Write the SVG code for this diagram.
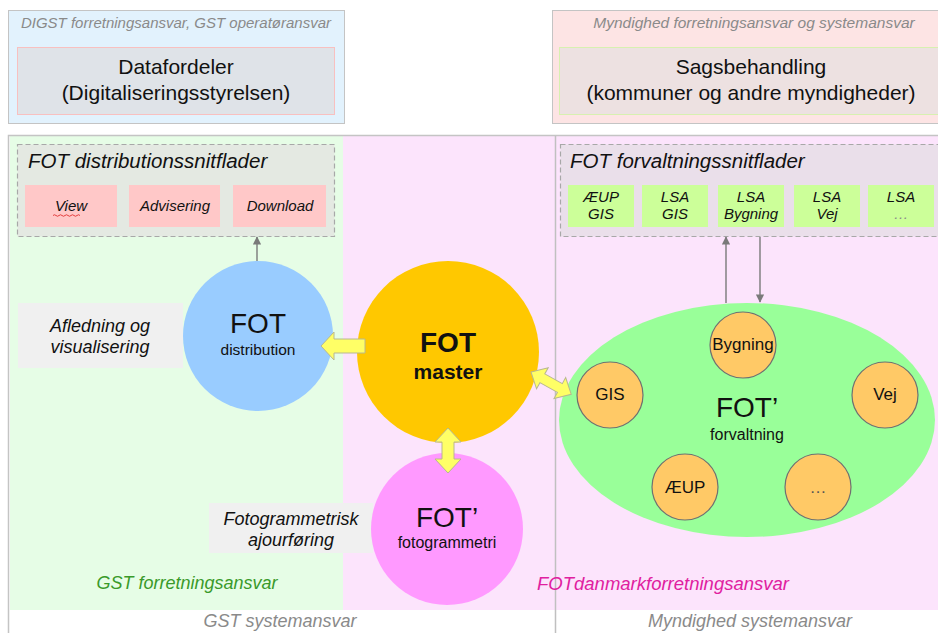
<svg xmlns="http://www.w3.org/2000/svg" width="938" height="633" viewBox="0 0 938 633">
<style>
text{font-family:"Liberation Sans",Arial,sans-serif;fill:#111}
.it{font-style:italic}
.gray{fill:#8a8a8a}
.sub{fill:#ffc8c8}
.sub2{fill:#ccff99}
.dash{stroke:#a8a8a8;stroke-width:1.2;stroke-dasharray:5 3}
.small{fill:#ffc966;stroke:#707070;stroke-width:1.2}
.yarrow{fill:#ffff66;stroke:#b8b890;stroke-width:1}
.conn{stroke:#7a7a7a;stroke-width:1.4;fill:none}
</style>
<defs>
<marker id="ah" viewBox="0 0 10 10" refX="9" refY="5" markerWidth="6" markerHeight="6" orient="auto-start-reverse">
<path d="M0,0 L10,5 L0,10 z" fill="#7a7a7a"/>
</marker>
</defs>
<rect width="938" height="633" fill="#ffffff"/>

<!-- top boxes -->
<g id="datafordeler">
<rect x="8.5" y="10.5" width="336" height="113" fill="#e2f2fd" stroke="#c4c4c4"/>
<text x="176" y="28" class="it gray" font-size="15" text-anchor="middle">DIGST forretningsansvar, GST operatøransvar</text>
<rect x="17.5" y="47.5" width="317" height="67" fill="#dfe3e8" stroke="#f8c0c0"/>
<text x="176" y="74" font-size="21" text-anchor="middle">Datafordeler</text>
<text x="176" y="100" font-size="21" text-anchor="middle">(Digitaliseringsstyrelsen)</text>
</g>
<g id="sagsbehandling">
<rect x="552.5" y="10.5" width="390" height="113" fill="#fde4e4" stroke="#c4c4c4"/>
<text x="754" y="28" class="it gray" font-size="15.5" text-anchor="middle">Myndighed forretningsansvar og systemansvar</text>
<rect x="559.5" y="47.5" width="384" height="67" fill="#ede1e1" stroke="#d8f0b0"/>
<text x="751" y="74" font-size="21" text-anchor="middle">Sagsbehandling</text>
<text x="751" y="100" font-size="21" text-anchor="middle">(kommuner og andre myndigheder)</text>
</g>

<!-- main frame -->
<g id="frame">
<rect x="10" y="136" width="333" height="474" fill="#e6fde6"/>
<rect x="343" y="136" width="595" height="474" fill="#fce4fc"/>
<path d="M8.5,633 V135.5 H938" fill="none" stroke="#c4c4c4" stroke-width="1.5"/>
<line x1="555.5" y1="136" x2="555.5" y2="633" stroke="#c0c0c0" stroke-width="1.5"/>
<text x="187" y="589" class="it" font-size="18" style="fill:#3a9a2a" text-anchor="middle">GST forretningsansvar</text>
<text x="663" y="590" class="it" font-size="18.5" style="fill:#e0209f" text-anchor="middle">FOTdanmarkforretningsansvar</text>
<text x="280" y="627" class="it gray" font-size="18" text-anchor="middle">GST systemansvar</text>
<text x="750" y="627" class="it gray" font-size="18" text-anchor="middle">Myndighed systemansvar</text>
</g>

<!-- distribution interfaces -->
<g id="distributionssnitflader">
<rect x="17.5" y="144.5" width="317" height="92" fill="#e4e9e2" class="dash"/>
<text x="28" y="168" class="it" font-size="20.5">FOT distributionssnitflader</text>
<rect x="25" y="185" width="92" height="42" class="sub"/>
<rect x="129" y="185" width="91" height="42" class="sub"/>
<rect x="233" y="185" width="93" height="42" class="sub"/>
<text x="71" y="211" class="it" font-size="15" text-anchor="middle">View</text>
<path d="M53,215.5 q1.5,-1.5 3,0 t3,0 t3,0 t3,0 t3,0 t3,0 t3,0 t3,0 t3,0" fill="none" stroke="#e03030" stroke-width="0.9"/>
<text x="175" y="211" class="it" font-size="15" text-anchor="middle">Advisering</text>
<text x="280" y="211" class="it" font-size="15" text-anchor="middle">Download</text>
</g>

<!-- forvaltning interfaces -->
<g id="forvaltningssnitflader">
<rect x="560.5" y="144.5" width="390" height="92" fill="#eadfea" class="dash"/>
<text x="570" y="168" class="it" font-size="20.5">FOT forvaltningssnitflader</text>
<rect x="568" y="185" width="66" height="42" class="sub2"/>
<rect x="642" y="185" width="66" height="42" class="sub2"/>
<rect x="718" y="185" width="66" height="42" class="sub2"/>
<rect x="794" y="185" width="66" height="42" class="sub2"/>
<rect x="868" y="185" width="66" height="42" class="sub2"/>
<g font-size="15" text-anchor="middle">
<text x="601" y="202" class="it">ÆUP</text><text x="601" y="219" class="it">GIS</text>
<text x="675" y="202" class="it">LSA</text><text x="675" y="219" class="it">GIS</text>
<text x="751" y="202" class="it">LSA</text><text x="751" y="219" class="it">Bygning</text>
<text x="827" y="202" class="it">LSA</text><text x="827" y="219" class="it">Vej</text>
<text x="901" y="202" class="it">LSA</text><text x="901" y="219" class="it gray">…</text>
</g>
</g>

<!-- label boxes -->
<g id="afledning">
<rect x="18" y="303" width="165" height="65" fill="#f0f0f0"/>
<text x="100" y="332" class="it" font-size="18" text-anchor="middle">Afledning og</text>
<text x="100" y="353" class="it" font-size="18" text-anchor="middle">visualisering</text>
</g>
<g id="fotogrammetrisk">
<rect x="209" y="503" width="164" height="50" fill="#f0f0f0"/>
<text x="291" y="525" class="it" font-size="18" text-anchor="middle">Fotogrammetrisk</text>
<text x="291" y="546" class="it" font-size="18" text-anchor="middle">ajourføring</text>
</g>

<!-- connectors -->
<g id="connectors">
<line x1="257" y1="262" x2="257" y2="237" class="conn" marker-end="url(#ah)"/>
<line x1="726" y1="303" x2="726" y2="237" class="conn" marker-end="url(#ah)"/>
<line x1="760" y1="237" x2="760" y2="302" class="conn" marker-end="url(#ah)"/>
</g>

<!-- nodes -->
<g id="fot-distribution">
<circle cx="258" cy="336" r="75" fill="#99ccff"/>
<text x="258" y="333" font-size="28" text-anchor="middle">FOT</text>
<text x="258" y="355" font-size="15.5" text-anchor="middle">distribution</text>
</g>
<g id="fot-master">
<circle cx="448" cy="352" r="91" fill="#ffc800"/>
<text x="448" y="352" font-size="28" font-weight="bold" text-anchor="middle">FOT</text>
<text x="448" y="379" font-size="21" font-weight="bold" text-anchor="middle">master</text>
</g>
<g id="fot-fotogrammetri">
<circle cx="447" cy="529" r="76" fill="#ff99ff"/>
<text x="447" y="527" font-size="28" text-anchor="middle">FOT’</text>
<text x="447" y="548" font-size="16" text-anchor="middle">fotogrammetri</text>
</g>
<g id="fot-forvaltning">
<ellipse cx="747" cy="420" rx="188" ry="117" fill="#99ff99"/>
<text x="747" y="417" font-size="28" text-anchor="middle">FOT’</text>
<text x="747" y="440" font-size="16" text-anchor="middle">forvaltning</text>
</g>
<g id="bygning"><circle cx="743" cy="345" r="33" class="small"/><text x="743" y="350" font-size="17" text-anchor="middle">Bygning</text></g>
<g id="gis"><circle cx="610" cy="395" r="33" class="small"/><text x="610" y="400" font-size="17" text-anchor="middle">GIS</text></g>
<g id="vej"><circle cx="885" cy="395" r="33" class="small"/><text x="885" y="400" font-size="17" text-anchor="middle">Vej</text></g>
<g id="aeup"><circle cx="685" cy="487" r="33" class="small"/><text x="685" y="493" font-size="17" text-anchor="middle">ÆUP</text></g>
<g id="more"><circle cx="818" cy="487" r="33" class="small"/><text x="818" y="493" font-size="17" text-anchor="middle" style="fill:#555">…</text></g>

<!-- block arrows -->
<g id="block-arrows">
<polygon class="yarrow" transform="translate(321,346)" points="0,0 13,-14 13,-7 44,-7 44,7 13,7 13,14"/>
<polygon class="yarrow" transform="translate(448,428) rotate(90)" points="0,0 14,-13 14,-6 31,-6 31,-13 45,0 31,13 31,6 14,6 14,13"/>
<polygon class="yarrow" transform="translate(531,372) rotate(29)" points="0,0 13,-12 13,-5 33,-5 33,-12 46,0 33,12 33,5 13,5 13,12"/>
</g>
</svg>
